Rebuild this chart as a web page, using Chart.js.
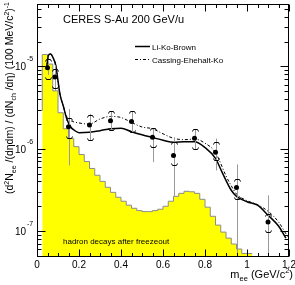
<!DOCTYPE html>
<html>
<head>
<meta charset="utf-8">
<script src="https://cdn.jsdelivr.net/npm/chart.js@4/dist/chart.umd.min.js"></script>
<style>
  html, body { margin: 0; padding: 0; background: #fff; }
  canvas { display: block; }
</style>
</head>
<body>
<canvas id="c" width="295" height="285"></canvas>
<script>
// hadron cocktail histogram: left bin edges (GeV/c^2) and contents
const binLow = [0.025, 0.05, 0.075, 0.1, 0.125, 0.15, 0.175, 0.2, 0.225, 0.25,
  0.275, 0.3, 0.325, 0.35, 0.375, 0.4, 0.425, 0.45, 0.475, 0.5,
  0.525, 0.55, 0.575, 0.6, 0.625, 0.65, 0.675, 0.7, 0.725, 0.75,
  0.775, 0.8, 0.825, 0.85, 0.875, 0.9, 0.925, 0.95, 0.975, 1.0, 1.025];
const cocktail = [2.9e-6, 1.4e-5, 1.07e-5, 5.06e-6, 2.74e-6, 1.75e-6, 1.33e-6, 1.06e-6, 8.51e-7, 7.0e-7,
  5.76e-7, 4.76e-7, 4.01e-7, 3.4e-7, 2.95e-7, 2.57e-7, 2.3e-7, 2.06e-7, 1.89e-7, 1.77e-7,
  1.72e-7, 1.72e-7, 1.77e-7, 1.84e-7, 2.0e-7, 2.3e-7, 2.64e-7, 2.87e-7, 3.04e-7, 3.0e-7,
  2.87e-7, 2.43e-7, 1.95e-7, 1.51e-7, 1.18e-7, 9.7e-8, 8.2e-8, 6.95e-8, 6.04e-8, 5.33e-8, 5.33e-8];

// Li-Ko-Brown curve
const lkbMass = [0.045, 0.055, 0.065, 0.075, 0.09, 0.1, 0.11, 0.125, 0.14, 0.16, 0.18, 0.2, 0.25, 0.3, 0.35,
  0.4, 0.45, 0.5, 0.55, 0.6, 0.65, 0.7, 0.75, 0.8, 0.85, 0.875, 0.9, 0.925, 0.95, 1.0, 1.05, 1.1, 1.15, 1.185];
const lkbVal = [9.33e-6, 1.377e-5, 1.416e-5, 1.303e-5, 1.014e-5, 6.68e-6, 4.52e-6, 3.33e-6, 2.38e-6, 1.85e-6, 1.66e-6, 1.57e-6, 1.59e-6, 1.66e-6, 1.75e-6,
  1.77e-6, 1.61e-6, 1.48e-6, 1.37e-6, 1.27e-6, 1.2e-6, 1.22e-6, 1.22e-6, 1.035e-6, 7.62e-7, 5.61e-7, 4.13e-7, 3.13e-7, 2.64e-7, 2.27e-7, 2.06e-7, 1.56e-7, 1.15e-7, 8.2e-8];

// Cassing-Ehehalt-Ko curve
const cekMass = [0.045, 0.055, 0.065, 0.075, 0.09, 0.1, 0.11, 0.125, 0.14, 0.15, 0.2, 0.25, 0.3, 0.35,
  0.4, 0.45, 0.5, 0.55, 0.6, 0.65, 0.7, 0.75, 0.8, 0.85, 0.875, 0.9, 0.925, 0.95, 1.0, 1.05, 1.1, 1.15, 1.195];
const cekVal = [9.33e-6, 1.377e-5, 1.416e-5, 1.303e-5, 1.014e-5, 6.68e-6, 4.52e-6, 3.33e-6, 2.51e-6, 2.3e-6, 2.06e-6, 2.0e-6, 2.3e-6, 2.47e-6,
  2.4e-6, 2.09e-6, 1.84e-6, 1.75e-6, 1.52e-6, 1.34e-6, 1.29e-6, 1.31e-6, 1.17e-6, 9.0e-7, 6.6e-7, 4.68e-7, 3.55e-7, 2.82e-7, 2.34e-7, 2.09e-7, 1.74e-7, 1.29e-7, 8.4e-8];

// CERES data points with statistical and systematic errors
const dataMass = [0.05, 0.085, 0.15, 0.25, 0.35, 0.45, 0.55, 0.65, 0.75, 0.85, 0.95, 1.1];
const dataVal = [9.67e-6, 7.46e-6, 1.855e-6, 1.945e-6, 2.19e-6, 2.15e-6, 1.38e-6, 8.28e-7, 1.34e-6, 9.08e-7, 3.37e-7, 1.29e-7];
const statHi = [1.16e-5, 1.04e-5, 3.03e-6, 2.66e-6, 2.84e-6, 2.84e-6, 1.76e-6, 1.38e-6, 1.74e-6, 1.33e-6, 6.44e-7, 2.72e-7];
const statLo = [7.9e-6, 5.06e-6, 6.27e-7, 1.26e-6, 1.69e-6, 1.58e-6, 6.87e-7, 2.6e-7, 9.97e-7, 5.45e-7, 3e-8, 3e-8];
const sysHi = [1.22e-5, 9.25e-6, 2.38e-6, 2.57e-6, 2.84e-6, 2.84e-6, 1.79e-6, 1.2e-6, 1.74e-6, 1.2e-6, 4.33e-7, 1.63e-7];
const sysLo = [7.0e-6, 5.55e-6, 1.36e-6, 1.27e-6, 1.69e-6, 1.58e-6, 1.04e-6, 6.27e-7, 9.97e-7, 7.2e-7, 2.48e-7, 9.78e-8];

// axis ticks
const xMajor = [0, 0.2, 0.4, 0.6, 0.8, 1, 1.2];
const xLabels = ['0', '0.2', '0.4', '0.6', '0.8', '1', '1.2'];
const yDecades = [-8, -7, -6, -5];
const yLabelExp = [-7, -6, -5];

const Y_MIN = 4.9e-8, Y_MAX = 5.75e-5;
const FONT = '"Liberation Sans", Arial, Helvetica, sans-serif';

const pts = (xs, ys) => xs.map((x, i) => ({ x, y: ys[i] }));

// text with sub/superscripts: parts = [text, size, dy]
function richWidth(ctx, parts) {
  let w = 0;
  for (const p of parts) { ctx.font = p[1] + 'px ' + FONT; w += ctx.measureText(p[0]).width; }
  return w;
}
function drawRich(ctx, parts, x, y) {
  for (const p of parts) {
    ctx.font = p[1] + 'px ' + FONT;
    ctx.fillText(p[0], x, y + p[2]);
    x += ctx.measureText(p[0]).width;
  }
}

const errorBars = {
  id: 'errorBars',
  beforeDatasetDraw(chart, args) {
    if (args.index !== 3) return;
    const { ctx, chartArea: a } = chart;
    const xs = chart.scales.x, ys = chart.scales.y;
    ctx.save();
    ctx.beginPath();
    ctx.rect(a.left, a.top, a.right - a.left, a.bottom - a.top);
    ctx.clip();
    ctx.lineWidth = 1;
    ctx.strokeStyle = '#9a9a9a';
    dataMass.forEach((m, i) => {
      const x = Math.round(xs.getPixelForValue(m)) + 0.5;
      ctx.beginPath();
      ctx.moveTo(x, ys.getPixelForValue(statHi[i]));
      ctx.lineTo(x, ys.getPixelForValue(statLo[i]));
      ctx.stroke();
    });
    ctx.strokeStyle = '#000';
    dataMass.forEach((m, i) => {
      const x = Math.round(xs.getPixelForValue(m)) + 0.5;
      const yt = Math.round(ys.getPixelForValue(sysHi[i])) + 0.5;
      const yb = Math.round(ys.getPixelForValue(sysLo[i])) + 0.5;
      ctx.beginPath();
      ctx.moveTo(x - 3, yt + 2); ctx.lineTo(x - 2, yt); ctx.lineTo(x + 2, yt); ctx.lineTo(x + 3, yt + 2);
      ctx.moveTo(x - 3, yb - 2); ctx.lineTo(x - 2, yb); ctx.lineTo(x + 2, yb); ctx.lineTo(x + 3, yb - 2);
      ctx.stroke();
    });
    ctx.restore();
  }
};

const frame = {
  id: 'frame',
  afterDraw(chart) {
    const { ctx, chartArea: a } = chart;
    const xs = chart.scales.x, ys = chart.scales.y;
    const L = Math.round(a.left) + 0.5, R = Math.round(a.right) - 0.5;
    const T = Math.round(a.top) + 0.5, B = Math.round(a.bottom) - 0.5;
    ctx.save();
    ctx.strokeStyle = '#000';
    ctx.lineWidth = 1;
    ctx.strokeRect(L, T, R - L, B - T);

    // x ticks (inside, bottom and top)
    ctx.beginPath();
    for (let k = 0; k <= 24; k++) {
      const v = k * 0.05;
      const x = Math.round(xs.getPixelForValue(v)) + 0.5;
      const len = k % 4 === 0 ? 7 : 3.5;
      ctx.moveTo(x, B); ctx.lineTo(x, B - len);
      ctx.moveTo(x, T); ctx.lineTo(x, T + len);
    }
    // y ticks (log, inside, left and right)
    yDecades.forEach(e => {
      for (let m = 1; m <= 9; m++) {
        const v = m * Math.pow(10, e);
        if (v < Y_MIN || v > Y_MAX) continue;
        const y = Math.round(ys.getPixelForValue(v)) + 0.5;
        const len = m === 1 ? 8 : 4;
        ctx.moveTo(L, y); ctx.lineTo(L + len, y);
        ctx.moveTo(R, y); ctx.lineTo(R - len, y);
      }
    });
    ctx.stroke();

    ctx.fillStyle = '#000';
    // x tick labels
    ctx.textAlign = 'center';
    ctx.textBaseline = 'alphabetic';
    ctx.font = '10px ' + FONT;
    xMajor.forEach((v, i) => ctx.fillText(xLabels[i], xs.getPixelForValue(v), 268));
    // y tick labels 10^n
    yLabelExp.forEach(e => {
      const y = ys.getPixelForValue(Math.pow(10, e));
      ctx.textAlign = 'right';
      ctx.font = '10px ' + FONT;
      ctx.fillText('10', 26, y + 4);
      ctx.textAlign = 'left';
      ctx.font = '7px ' + FONT;
      ctx.fillText(String(e), 27, y - 5);
    });

    ctx.textAlign = 'left';
    // title
    ctx.font = '11px ' + FONT;
    ctx.fillText('CERES S-Au 200 GeV/u', 63, 22.5);

    // x axis title
    const xt = [['m', 11, 0], ['ee', 7.5, 2.5], [' (GeV/c', 11, 0], ['2', 7.5, -5], [')', 11, 0]];
    drawRich(ctx, xt, 293 - richWidth(ctx, xt), 278);

    // y axis title (rotated, right aligned to the top)
    const yt = [['(d', 10.5, 0], ['2', 7, -4.5], ['N', 10.5, 0], ['ee', 7, 2.5], [' /(d\u03b7dm) / (dN', 10.5, 0],
      ['ch', 7, 2.5], [' /d\u03b7) (100 MeV/c', 10.5, 0], ['2', 7, -4.5], [')', 10.5, 0], ['-1', 7, -4.5]];
    ctx.save();
    ctx.translate(13, 2);
    ctx.rotate(-Math.PI / 2);
    drawRich(ctx, yt, -richWidth(ctx, yt), 0);
    ctx.restore();

    // legend
    const ds = chart.data.datasets;
    [[ds[1], 46.5, 'Li-Ko-Brown'], [ds[2], 59.5, 'Cassing-Ehehalt-Ko']].forEach(([d, y, label]) => {
      ctx.save();
      ctx.strokeStyle = d.borderColor;
      ctx.lineWidth = d.borderWidth;
      ctx.setLineDash(d.borderDash || []);
      ctx.beginPath();
      ctx.moveTo(135, y); ctx.lineTo(150, y);
      ctx.stroke();
      ctx.restore();
      ctx.font = '8px ' + FONT;
      ctx.fillText(label, 152, y + 3);
    });

    // cocktail label
    ctx.font = '8px ' + FONT;
    ctx.fillText('hadron decays after freezeout', 63, 244);
    ctx.restore();
  }
};

new Chart(document.getElementById('c'), {
  type: 'line',
  data: {
    datasets: [
      {
        label: 'hadron decays after freezeout',
        data: pts(binLow, cocktail),
        stepped: 'after',
        fill: 'start',
        backgroundColor: '#ffff00',
        borderColor: '#8c8c8c',
        borderWidth: 1,
        pointRadius: 0,
        order: 4
      },
      {
        label: 'Li-Ko-Brown',
        data: pts(lkbMass, lkbVal),
        borderColor: '#000',
        borderWidth: 1.5,
        pointRadius: 0,
        cubicInterpolationMode: 'monotone',
        order: 2
      },
      {
        label: 'Cassing-Ehehalt-Ko',
        data: pts(cekMass, cekVal),
        borderColor: '#000',
        borderWidth: 1,
        borderDash: [3, 2, 1, 2],
        pointRadius: 0,
        cubicInterpolationMode: 'monotone',
        order: 3
      },
      {
        label: 'CERES',
        data: pts(dataMass, dataVal),
        showLine: false,
        pointRadius: 2.5,
        pointBackgroundColor: '#000',
        pointBorderColor: '#000',
        borderWidth: 0,
        order: 1
      }
    ]
  },
  options: {
    responsive: false,
    animation: false,
    layout: { padding: { left: 0, top: 3, right: 6, bottom: 0 } },
    scales: {
      x: {
        type: 'linear', min: 0, max: 1.2,
        grid: { display: false }, border: { display: false },
        ticks: { display: false },
        afterFit: s => { s.height = 28.5; }
      },
      y: {
        type: 'logarithmic', min: Y_MIN, max: Y_MAX,
        grid: { display: false }, border: { display: false },
        ticks: { display: false },
        afterFit: s => { s.width = 37; }
      }
    },
    plugins: { legend: { display: false }, tooltip: { enabled: false } }
  },
  plugins: [errorBars, frame]
});
</script>
</body>
</html>
